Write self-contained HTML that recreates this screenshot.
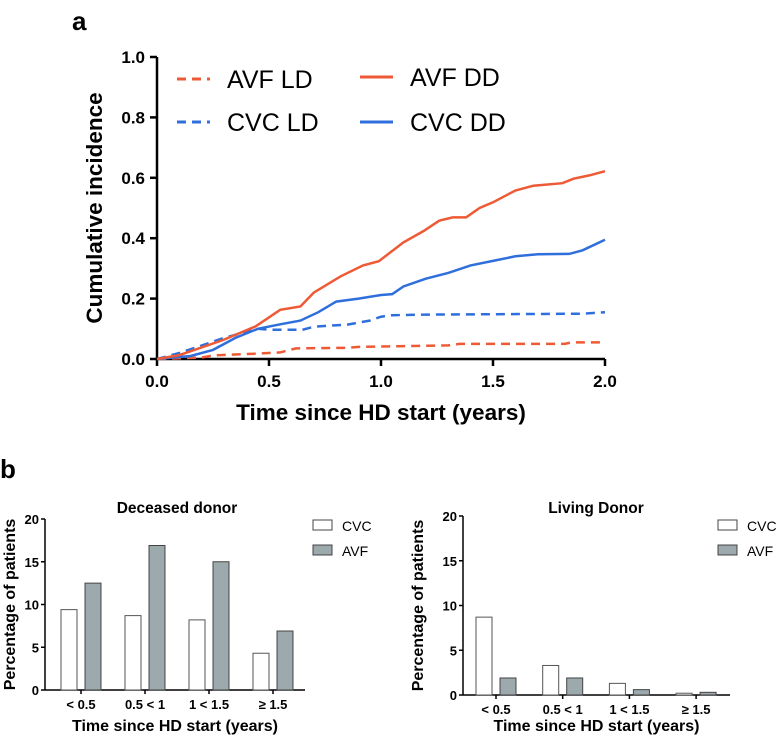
<!DOCTYPE html>
<html><head><meta charset="utf-8"><style>
body{margin:0;background:#fff;}
svg{display:block;font-family:"Liberation Sans",Arial,sans-serif;}
</style></head><body>
<svg id="fig" width="780" height="743" viewBox="0 0 780 743">
<text x="72" y="30" font-size="26" font-weight="bold">a</text>
<text x="0" y="478" font-size="26" font-weight="bold">b</text>
<g id="top"></g>
<g id="bl"></g>
<g id="br"></g>
</svg>
<script>
const NS="http://www.w3.org/2000/svg";
function mk(p,t,a,txt){const e=document.createElementNS(NS,t);for(const k in a)e.setAttribute(k,a[k]);if(txt!=null)e.textContent=txt;p.appendChild(e);return e;}

// ---- top chart data ----
const xTicks=[0,0.5,1.0,1.5,2.0];
const yTicks=[0,0.2,0.4,0.6,0.8,1.0];
const avfDDx=[0,0.1,0.295,0.44,0.55,0.64,0.70,0.82,0.92,0.99,1.1,1.19,1.26,1.32,1.38,1.44,1.5,1.6,1.68,1.81,1.86,1.93,2.0];
const avfDDy=[0,0.013,0.063,0.108,0.163,0.174,0.22,0.274,0.31,0.324,0.386,0.424,0.458,0.469,0.469,0.50,0.519,0.558,0.574,0.582,0.597,0.608,0.622];
const cvcDDx=[0,0.15,0.25,0.35,0.45,0.55,0.64,0.72,0.80,0.9,1.0,1.05,1.1,1.2,1.3,1.4,1.5,1.6,1.7,1.84,1.9,2.0];
const cvcDDy=[0,0.01,0.03,0.07,0.10,0.115,0.127,0.155,0.19,0.20,0.212,0.215,0.24,0.266,0.285,0.31,0.325,0.34,0.347,0.348,0.36,0.395];
const cvcLDx=[0,0.1,0.3,0.45,0.5,0.65,0.7,0.85,0.95,1.0,1.05,1.2,1.9,2.0];
const cvcLDy=[0,0.02,0.07,0.10,0.097,0.097,0.107,0.114,0.127,0.14,0.145,0.147,0.150,0.155];
const avfLDx=[0,0.2,0.25,0.45,0.55,0.62,0.85,0.9,1.3,1.35,1.82,1.85,2.0];
const avfLDy=[0,0.005,0.012,0.018,0.022,0.035,0.037,0.04,0.045,0.05,0.05,0.055,0.055];

const T=document.getElementById('top');
const X=v=>157+v/2*448, Y=v=>359-v*302;
mk(T,'line',{x1:157,y1:Y(0),x2:X(2),y2:Y(0),stroke:'#000','stroke-width':2.5});
mk(T,'line',{x1:157,y1:Y(0),x2:157,y2:Y(1),stroke:'#000','stroke-width':2.5});
xTicks.forEach(t=>{mk(T,'line',{x1:X(t),y1:359,x2:X(t),y2:366,stroke:'#000','stroke-width':2.5});
 const e=mk(T,'text',{x:X(t),y:387,'font-size':17,'font-weight':'bold','text-anchor':'middle'},t.toFixed(1));
 
 });
yTicks.forEach(t=>{mk(T,'line',{x1:150,y1:Y(t),x2:157,y2:Y(t),stroke:'#000','stroke-width':2.5});
 const e=mk(T,'text',{x:145,y:Y(t)+6,'font-size':17,'font-weight':'bold','text-anchor':'end'},t.toFixed(1));
 
 });
let e=mk(T,'text',{x:381,y:420,'font-size':22.5,'font-weight':'bold','text-anchor':'middle'},'Time since HD start (years)');

e=mk(T,'text',{x:0,y:0,'font-size':22.5,'font-weight':'bold','text-anchor':'middle',transform:'translate(102,208) rotate(-90)'},'Cumulative incidence');

function line(xs,ys,col,dash,name){const d=xs.map((x,i)=>(i?'L':'M')+X(x).toFixed(1)+','+Y(ys[i]).toFixed(1)).join('');
 const p=mk(T,'path',{d:d,fill:'none',stroke:col,'stroke-width':2.5,'stroke-dasharray':dash||'none'});
 }
const OR='#ee5a35',BL='#2f6fdc';
line(avfLDx,avfLDy,OR,'9,6','avf-ld-line');
line(cvcLDx,cvcLDy,BL,'9,6','cvc-ld-line');
line(cvcDDx,cvcDDy,BL,null,'cvc-dd-line');
line(avfDDx,avfDDy,OR,null,'avf-dd-line');
[[177,79,OR,'9,6','AVF LD'],[177,122,BL,'9,6','CVC LD'],[360,77,OR,null,'AVF DD'],[360,122,BL,null,'CVC DD']].forEach(l=>{
 const g=mk(T,'g',{});
 mk(g,'line',{x1:l[0],y1:l[1],x2:l[0]+33,y2:l[1],stroke:l[2],'stroke-width':3,'stroke-dasharray':l[3]||'none'});
 mk(g,'text',{x:l[0]+50,y:l[1]+9,'font-size':25},l[4]);});

// ---- bar charts data ----
const cats=['< 0.5','0.5 < 1','1 < 1.5','≥ 1.5'];
const barTicks=[0,5,10,15,20];
const ddCVC=[9.4,8.7,8.2,4.3];
const ddAVF=[12.5,16.9,15.0,6.9];
const ldCVC=[8.7,3.3,1.3,0.2];
const ldAVF=[1.9,1.9,0.6,0.3];

function bars(G,o){
 const Yb=v=>o.y0-(o.y0-o.y20)*v/20;
 const cx=i=>o.c0+i*o.sp;
 mk(G,'line',{x1:o.ax,y1:o.y0,x2:o.xe,y2:o.y0,stroke:'#000','stroke-width':1.5});
 mk(G,'line',{x1:o.ax,y1:o.y0,x2:o.ax,y2:o.y20,stroke:'#000','stroke-width':1.5});
 barTicks.forEach(t=>{mk(G,'line',{x1:o.ax-4,y1:Yb(t),x2:o.ax,y2:Yb(t),stroke:'#000','stroke-width':1.5});
  const e=mk(G,'text',{x:o.ax-6,y:Yb(t)+5,'font-size':13,'font-weight':'bold','text-anchor':'end'},t);
  });
 cats.forEach((c,i)=>{mk(G,'line',{x1:cx(i),y1:o.y0,x2:cx(i),y2:o.y0+4,stroke:'#000','stroke-width':1.5});
  const e=mk(G,'text',{x:cx(i),y:o.y0+19,'font-size':13,'font-weight':'bold','text-anchor':'middle'},c);
  
  const r1=mk(G,'rect',{x:cx(i)-20,y:Yb(o.cvc[i]),width:16,height:o.y0-Yb(o.cvc[i]),fill:'#fff',stroke:'#555','stroke-width':1});
  
  const r2=mk(G,'rect',{x:cx(i)+4,y:Yb(o.avf[i]),width:16,height:o.y0-Yb(o.avf[i]),fill:'#9ca9ad',stroke:'#444','stroke-width':1});
  });
 let e=mk(G,'text',{x:o.tx,y:513,'font-size':15.5,'font-weight':'bold','text-anchor':'middle'},o.title);
 
 e=mk(G,'text',{x:(o.ax+o.xe)/2,y:731,'font-size':16,'font-weight':'bold','text-anchor':'middle'},'Time since HD start (years)');
 
 e=mk(G,'text',{x:0,y:0,'font-size':16,'font-weight':'bold','text-anchor':'middle',transform:`translate(${o.yl},${(o.y0+o.y20)/2}) rotate(-90)`},'Percentage of patients');
 
 [['CVC','#fff',520],['AVF','#9ca9ad',545]].forEach(l=>{const g=mk(G,'g',{});
  
  mk(g,'rect',{x:o.lx,y:l[2],width:19,height:10,fill:l[1],stroke:'#444','stroke-width':1});
  mk(g,'text',{x:o.lx+29,y:l[2]+11,'font-size':14},l[0]);});
}
bars(document.getElementById('bl'),{ax:45,xe:305,y0:690,y20:519,c0:81,sp:64,cvc:ddCVC,avf:ddAVF,title:'Deceased donor',tx:177,yl:15,lx:313});
bars(document.getElementById('br'),{ax:463,xe:730,y0:695,y20:516,c0:496,sp:66.7,cvc:ldCVC,avf:ldAVF,title:'Living Donor',tx:596,yl:423,lx:718});
</script>
</body></html>
